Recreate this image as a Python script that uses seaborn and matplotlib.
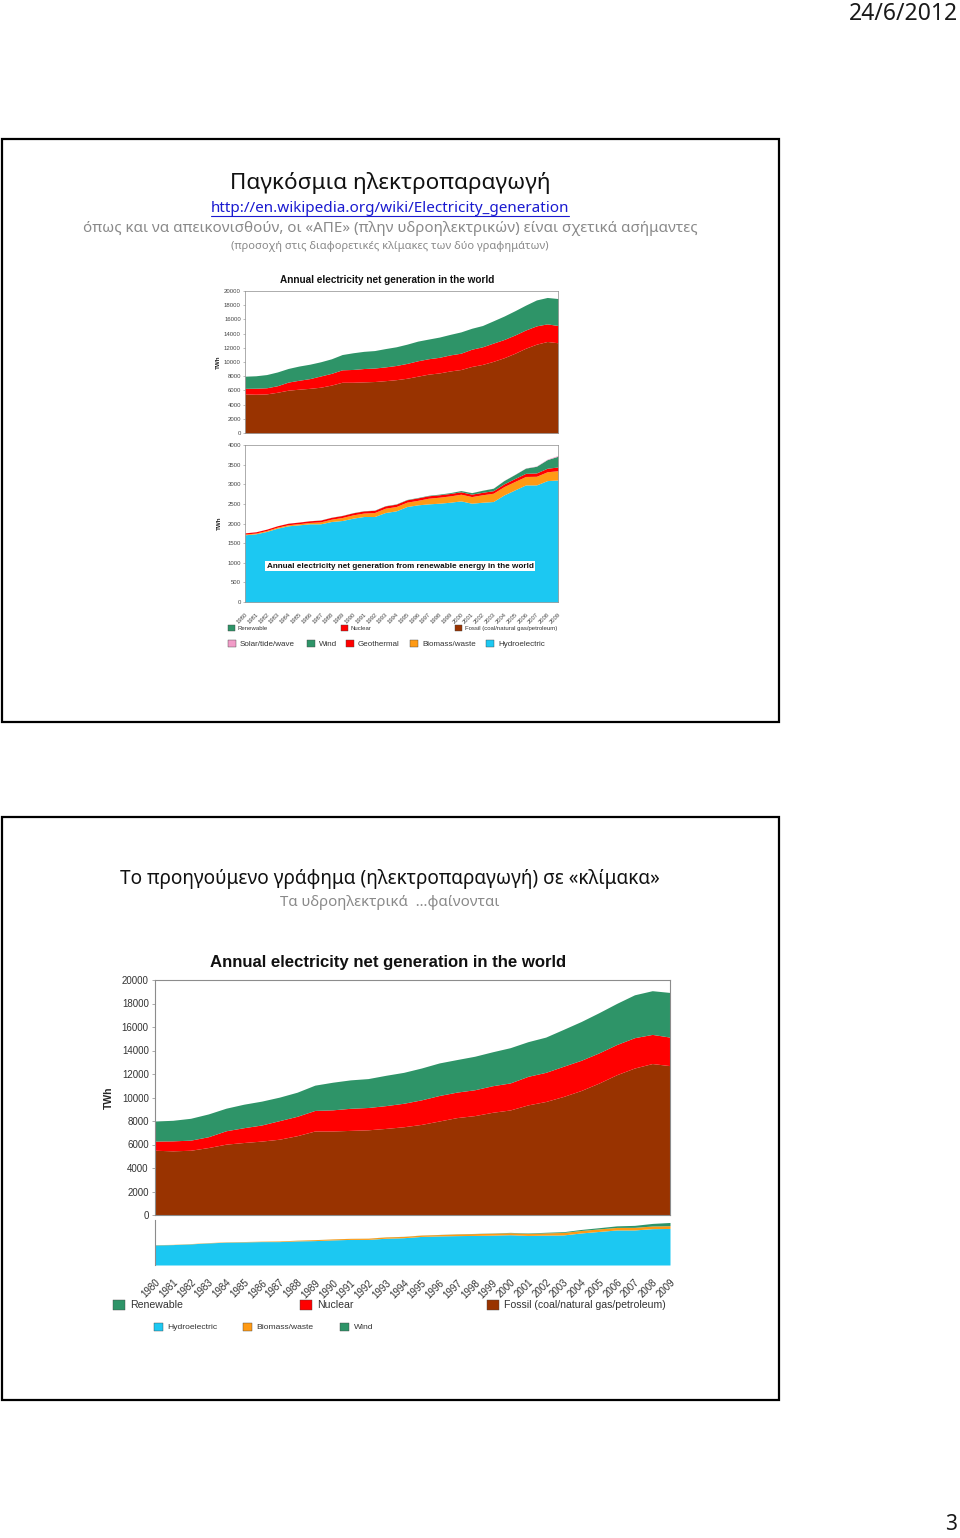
import matplotlib
matplotlib.use("Agg")
import matplotlib.pyplot as plt
import seaborn as sns
import pandas as pd
from matplotlib.patches import Rectangle
from matplotlib.lines import Line2D

# ---------------- data ----------------
years = list(range(1980, 2010))
fossil = [5510, 5460, 5510, 5740, 6030, 6170, 6290, 6450, 6750, 7150,
          7150, 7200, 7250, 7370, 7510, 7710, 8000, 8290, 8460, 8740,
          8940, 9370, 9660, 10090, 10600, 11230, 11940, 12510, 12890, 12710]
nuclear = [780, 850, 860, 920, 1140, 1260, 1370, 1580, 1650, 1750,
           1800, 1880, 1900, 1940, 2000, 2090, 2170, 2170, 2200, 2260,
           2300, 2430, 2480, 2570, 2570, 2570, 2570, 2580, 2480, 2430]
renewable = [1710, 1750, 1860, 1940, 1920, 2000, 2030, 2000, 2050, 2150,
             2350, 2420, 2460, 2580, 2630, 2710, 2770, 2770, 2850, 2890,
             3000, 2950, 3000, 3140, 3300, 3420, 3500, 3650, 3720, 3800]

hydro = [1712, 1737, 1797, 1881, 1941, 1966, 1992, 1992, 2051, 2076,
         2136, 2178, 2178, 2280, 2322, 2432, 2475, 2500, 2517, 2542,
         2576, 2517, 2542, 2560, 2729, 2856, 2983, 2983, 3093, 3110]
biomass = [20, 20, 25, 26, 28, 30, 35, 50, 59, 77,
           84, 88, 102, 110, 110, 112, 115, 144, 153, 161,
           170, 169, 190, 211, 212, 215, 215, 220, 225, 235]
geothermal = [30, 32, 34, 36, 38, 40, 42, 45, 47, 50,
              52, 54, 56, 58, 60, 60, 62, 62, 62, 62,
              62, 62, 63, 65, 70, 75, 80, 85, 90, 95]
wind = [0, 0, 0, 0, 1, 1, 2, 3, 3, 4,
        4, 5, 5, 6, 7, 8, 10, 12, 16, 21,
        31, 38, 52, 63, 85, 104, 133, 170, 220, 275]
solar = [1, 1, 1, 1, 1, 1, 1, 1, 1, 1,
         1, 1, 1, 1, 1, 1, 1, 1, 1, 1,
         1, 1, 2, 2, 3, 4, 5, 8, 12, 20]

world_ticks = list(range(0, 20001, 2000))
renew_ticks = list(range(0, 4001, 500))

world_labels = ["Renewable", "Nuclear", "Fossil (coal/natural gas/petroleum)"]
renew_labels = ["Solar/tide/wave", "Wind", "Geothermal", "Biomass/waste", "Hydroelectric"]

C_FOSSIL = "#993300"
C_NUC = "#FF0000"
C_REN = "#2E9468"
C_HYDRO = "#1CC8F2"
C_BIO = "#FF9A14"
C_GEO = "#FF0000"
C_WIND = "#2E9468"
C_SOLAR = "#F29CC8"

world = pd.DataFrame({"year": years, "Fossil": fossil, "Nuclear": nuclear, "Renewable": renewable})
renew = pd.DataFrame({"year": years, "Hydroelectric": hydro, "Biomass/waste": biomass,
                      "Geothermal": geothermal, "Wind": wind, "Solar/tide/wave": solar})

# ---------------- style ----------------
sns.set_theme(style="white")
plt.rcParams['font.family'] = ['Liberation Sans', 'DejaVu Sans']
GREEK = ['Noto Sans', 'DejaVu Sans']

W, H = 960, 1538
fig = plt.figure(figsize=(9.6, 15.38), dpi=100)
fig.patch.set_facecolor("white")


def fx(x):
    return x / W


def fy(y):
    return 1 - y / H


def ax_px(x0, y0, x1, y1):
    return fig.add_axes([x0 / W, 1 - y1 / H, (x1 - x0) / W, (y1 - y0) / H])


def style_axes(ax, lw=0.6):
    ax.set_facecolor("white")
    for s in ax.spines.values():
        s.set_visible(True)
        s.set_color("#8c8c8c")
        s.set_linewidth(lw)
    ax.grid(False)


def leg(handle, label, x, y, fs, hl):
    fig.legend([handle], [label], loc="center left", bbox_to_anchor=(fx(x), fy(y)),
               frameon=False, fontsize=fs, handlelength=hl, handleheight=hl,
               handletextpad=0.5, borderpad=0, borderaxespad=0, labelcolor="#333333")


def box(color):
    return Rectangle((0, 0), 1, 1, fc=color, ec="#444444", lw=0.3)


# ---------------- page texts ----------------
fig.text(fx(958), fy(14), "24/6/2012", ha="right", va="center", fontsize=16.5, family=GREEK, color="#1a1a1a")
fig.text(fx(957), fy(1525), "3", ha="right", va="center", fontsize=15, family=GREEK, color="#1a1a1a")

for y0, y1 in [(139, 722), (817, 1400)]:
    fig.add_artist(Rectangle((fx(2), fy(y1)), fx(779) - fx(2), fy(y0) - fy(y1),
                             transform=fig.transFigure, fill=False, ec="black", lw=1.6))

# slide 1 headers
fig.text(fx(390), fy(183), "Παγκόσμια ηλεκτροπαραγωγή", ha="center", va="center",
         fontsize=16.2, family=GREEK, color="#111111")
link = fig.text(fx(390), fy(208), "http://en.wikipedia.org/wiki/Electricity_generation", ha="center",
                va="center", fontsize=11, family=GREEK, color="#1a1ad0")
fig.text(fx(390), fy(229), "όπως και να απεικονισθούν, οι «ΑΠΕ» (πλην υδροηλεκτρικών) είναι σχετικά ασήμαντες",
         ha="center", va="center", fontsize=10.9, family=GREEK, color="#8a8a8a")
fig.text(fx(390), fy(247), "(προσοχή στις διαφορετικές κλίμακες των δύο γραφημάτων)",
         ha="center", va="center", fontsize=8.0, family=GREEK, color="#8a8a8a")

# slide 2 headers
fig.text(fx(390), fy(879), "Το προηγούμενο γράφημα (ηλεκτροπαραγωγή) σε «κλίμακα»", ha="center",
         va="center", fontsize=13.7, family=GREEK, color="#111111")
fig.text(fx(390), fy(902), "Τα υδροηλεκτρικά  …φαίνονται", ha="center", va="center",
         fontsize=10.8, family=GREEK, color="#8a8a8a")

# ---------------- slide 1 charts ----------------
world_cols = ["Fossil", "Nuclear", "Renewable"]
world_colors = [C_FOSSIL, C_NUC, C_REN]

a1 = ax_px(245, 291, 558, 433)
style_axes(a1, 0.5)
a1.stackplot(world["year"], *[world[c] for c in world_cols], colors=world_colors, lw=0)
a1.set_xlim(1980, 2009)
a1.set_ylim(0, 20000)
a1.set_yticks(world_ticks)
a1.set_yticklabels([str(v) for v in world_ticks], fontsize=4.3, color="#444444")
a1.set_xticks([])
a1.tick_params(axis="y", left=True, length=1.5, width=0.4, color="#888888", pad=1.5)
a1.set_ylabel("TWh", fontsize=4.5, fontweight="bold", labelpad=2)
fig.text(fx(387), fy(280), "Annual electricity net generation in the world", ha="center",
         va="center", fontsize=7.2, fontweight="bold", color="#111111")

renew_cols = ["Hydroelectric", "Biomass/waste", "Geothermal", "Wind", "Solar/tide/wave"]
renew_colors = [C_HYDRO, C_BIO, C_GEO, C_WIND, C_SOLAR]
a2 = ax_px(245, 445, 558, 602)
style_axes(a2, 0.5)
a2.stackplot(renew["year"], *[renew[c] for c in renew_cols], colors=renew_colors, lw=0)
a2.set_xlim(1980, 2009)
a2.set_ylim(0, 4000)
a2.set_yticks(renew_ticks)
a2.set_yticklabels([str(v) for v in renew_ticks], fontsize=4.3, color="#444444")
a2.set_xticks(years)
a2.set_xticklabels([str(y) for y in years], rotation=45, ha="right", rotation_mode="anchor",
                   fontsize=4.2, color="#444444")
a2.tick_params(axis="y", left=True, length=1.5, width=0.4, color="#888888", pad=1.5)
a2.tick_params(axis="x", bottom=False, pad=1)
a2.set_ylabel("TWh", fontsize=4.5, fontweight="bold", labelpad=4)
fig.text(fx(400), fy(566), "Annual electricity net generation from renewable energy in the world",
         ha="center", va="center", fontsize=5.9, fontweight="bold", color="#111111",
         bbox=dict(fc="white", ec="none", pad=1.2))

leg(box(C_REN), world_labels[0], 228, 628, 4.3, 1.1)
leg(box(C_NUC), world_labels[1], 341, 628, 4.3, 1.1)
leg(box(C_FOSSIL), world_labels[2], 455, 628, 4.3, 1.1)

leg(box(C_SOLAR), renew_labels[0], 228, 644, 5.8, 1.0)
leg(box(C_WIND), renew_labels[1], 307, 644, 5.8, 1.0)
leg(box(C_GEO), renew_labels[2], 346, 644, 5.8, 1.0)
leg(box(C_BIO), renew_labels[3], 410, 644, 5.8, 1.0)
leg(box(C_HYDRO), renew_labels[4], 486, 644, 5.8, 1.0)

# ---------------- slide 2 charts ----------------
b1 = ax_px(155, 980, 670, 1215)
style_axes(b1, 0.8)
b1.stackplot(world["year"], *[world[c] for c in world_cols], colors=world_colors, lw=0)
b1.set_xlim(1980, 2009)
b1.set_ylim(0, 20000)
b1.set_yticks(world_ticks)
b1.set_yticklabels([str(v) for v in world_ticks], fontsize=7, color="#333333")
b1.set_xticks([])
b1.tick_params(axis="y", left=True, length=2.5, width=0.5, color="#888888", pad=2)
b1.set_ylabel("TWh", fontsize=7.5, fontweight="bold", labelpad=6)
fig.text(fx(388), fy(962), "Annual electricity net generation in the world", ha="center",
         va="center", fontsize=12.1, fontweight="bold", color="#111111")

b2 = ax_px(155, 1220, 670, 1265)
style_axes(b2, 0.8)
low_cols = ["Hydroelectric", "Biomass/waste", "Wind"]
b2.stackplot(renew["year"], *[renew[c] for c in low_cols], colors=[C_HYDRO, C_BIO, C_WIND], lw=0)
b2.set_xlim(1980, 2009)
b2.set_ylim(0, 20000 * (1265 - 1220) / (1215 - 980))
b2.set_yticks([])
b2.set_xticks(years)
b2.set_xticklabels([str(y) for y in years], rotation=45, ha="right", rotation_mode="anchor",
                   fontsize=7, color="#333333")
b2.tick_params(axis="x", bottom=False, pad=3)
b2.spines["top"].set_visible(False)
b2.spines["right"].set_visible(False)
b2.spines["bottom"].set_visible(False)

leg(box(C_REN), world_labels[0], 113, 1305, 7.6, 1.1)
leg(box(C_NUC), world_labels[1], 300, 1305, 7.6, 1.1)
leg(box(C_FOSSIL), world_labels[2], 487, 1305, 7.6, 1.1)

leg(box(C_HYDRO), "Hydroelectric", 154, 1327, 6.1, 1.1)
leg(box(C_BIO), "Biomass/waste", 243, 1327, 6.1, 1.1)
leg(box(C_WIND), "Wind", 340, 1327, 6.1, 1.1)

# underline the link
fig.canvas.draw()
bb = link.get_window_extent()
fig.add_artist(Line2D([bb.x0 / W, bb.x1 / W], [fy(216), fy(216)], transform=fig.transFigure,
                      color="#1a1ad0", lw=0.8))

fig.savefig("out.png", dpi=100, facecolor="white")
